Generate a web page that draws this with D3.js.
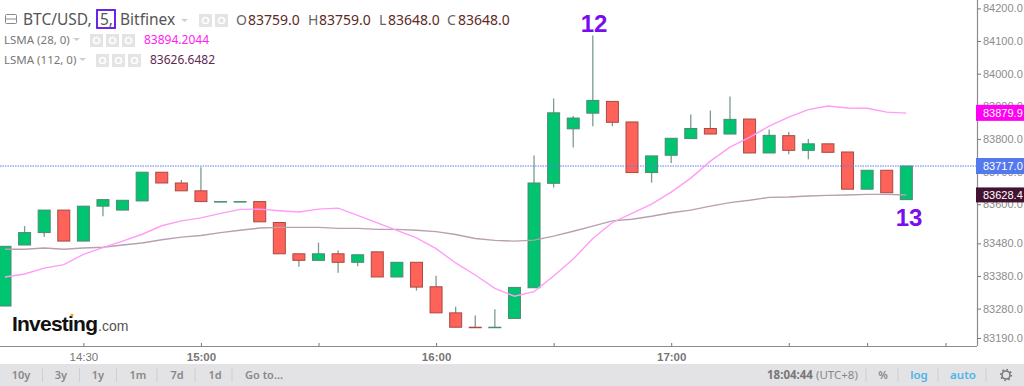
<!DOCTYPE html>
<html lang="en">
<head>
<meta charset="UTF-8">
<title>BTC/USD 5 Bitfinex</title>
<script src="https://d3js.org/d3.v7.min.js"></script>
<style>
    html, body { margin: 0; padding: 0; background: #fff; overflow: hidden; }
    svg { display: block; }
    text { font-family: "Liberation Sans", Arial, sans-serif; }
    .ui { font-family: "Noto Sans", "DejaVu Sans", sans-serif; }
</style>
</head>
<body>
<svg id="chart" width="1024" height="386"></svg>
<script>

// one candle every 5 minutes, index 0 = 14:10
const opens  = [83288,83475,83513,83582,83487,83594,83582,83610,83698,83665,83641,83608,83608,83608,83544,83448,83428,83448,83422,83454,83377,83422,83347,83267,83223,83223,83250,83344,83664,83831,83879,83915,83852,83697,83750,83801,83832,83815,83861,83757,83810,83765,83785,83760,83646,83704,83614];
const highs  = [83471,83533,83582,83582,83594,83614,83612,83698,83698,83674,83713,83608,83608,83608,83544,83448,83482,83459,83445,83454,83422,83422,83381,83286,83259,83278,83345,83749,83924,83870,84117,83915,83852,83748,83802,83875,83887,83930,83861,83829,83821,83800,83785,83760,83704,83704,83717];
const lows   = [83288,83475,83500,83487,83487,83563,83582,83610,83665,83641,83608,83608,83608,83546,83448,83408,83428,83390,83410,83377,83377,83335,83267,83223,83222,83223,83250,83344,83651,83774,83839,83839,83697,83666,83726,83801,83815,83815,83757,83757,83753,83738,83759,83646,83646,83635,83614];
const closes = [83471,83513,83582,83487,83594,83614,83612,83698,83665,83641,83608,83608,83608,83546,83448,83428,83448,83422,83445,83377,83422,83346,83267,83223,83222,83223,83345,83665,83880,83864,83918,83851,83697,83748,83802,83832,83815,83860,83757,83811,83765,83785,83759,83646,83704,83635,83717];

const lsma28 = [83377,83386,83404,83415,83446,83467,83487,83508,83534,83549,83558,83572,83584,83585,83580,83576,83585,83588,83566,83543,83520,83497,83464,83420,83383,83342,83318,83332,83380,83432,83495,83544,83572,83600,83637,83680,83732,83775,83805,83839,83867,83890,83901,83895,83894,83882,83879];
const lsma112 = [83462,83462,83466,83462,83466,83468,83475,83481,83491,83499,83504,83513,83520,83527,83529,83529,83529,83526,83526,83523,83523,83520,83516,83507,83495,83489,83487,83490,83502,83517,83533,83549,83554,83563,83574,83582,83594,83605,83612,83621,83622,83625,83627,83628,83630,83630,83628];

const priceTicks = [84200,84100,84000,83900,83800,83700,83600,83480,83380,83280,83190];
const timeTicks = [4,10,16,22,28,34,40,44,48];
const timeLabels = ['14:30','15:00','','16:00','','17:00','','',''];
const rangeButtons = ['10y','3y','1y','1m','7d','1d','Go to...'];

const lastClose = 83717;
const lastLsma28 = 83879.9;
const lastLsma112 = 83628.4;

const svg = d3.select('#chart');

const xScale = d3.scaleLinear().domain([0, 48]).range([5, 945.5]);
const yScale = d3.scaleLinear().domain([83190, 84200]).range([338, 8.4]);

// axes
const xAxis = d3.axisBottom(xScale).tickValues(timeTicks).tickSize(3)
    .tickFormat((d, i) => timeLabels[i]);
const gx = svg.append('g').attr('transform', 'translate(0,346)').call(xAxis);
gx.select('.domain').attr('d', 'M0,0.5H977').attr('stroke', '#8c8c8c').attr('stroke-width', 1.2);
gx.selectAll('line').attr('stroke', '#777').attr('y2', -3);
gx.selectAll('text').attr('y', 7).attr('font-size', 11.5).attr('font-weight', d => d === 4 ? 400 : 700)
    .attr('fill', '#777').style('font-family', '"Liberation Sans", Arial, sans-serif');

const yAxis = d3.axisRight(yScale).tickValues(priceTicks).tickSize(4).tickPadding(2)
    .tickFormat(d3.format('.1f'));
const gy = svg.append('g').attr('transform', 'translate(977,0)').call(yAxis);
gy.select('.domain').attr('d', 'M0.5,0V346').attr('stroke', '#8c8c8c').attr('stroke-width', 1.2);
gy.selectAll('line').attr('stroke', '#777');
gy.selectAll('text').attr('font-size', 11).attr('fill', '#8c8c8c')
    .style('font-family', '"Liberation Sans", Arial, sans-serif');

// candles
const candles = d3.range(opens.length);
svg.append('g').selectAll('line').data(candles).enter().append('line')
    .attr('x1', i => xScale(i)).attr('x2', i => xScale(i))
    .attr('y1', i => yScale(highs[i])).attr('y2', i => yScale(lows[i]))
    .attr('stroke', '#7b9c8d').attr('stroke-width', 1.3);
svg.append('g').selectAll('rect').data(candles).enter().append('rect')
    .attr('x', i => xScale(i) - 6)
    .attr('width', 12)
    .attr('y', i => yScale(Math.max(opens[i], closes[i])))
    .attr('height', i => Math.max(0.5, Math.abs(yScale(opens[i]) - yScale(closes[i]))))
    .attr('fill', i => closes[i] >= opens[i] ? '#00c46f' : '#ff6259')
    .attr('stroke', i => closes[i] >= opens[i] ? '#4c8a70' : '#a84a45')
    .attr('stroke-width', 1);

// last price line
svg.append('line').attr('x1', 0).attr('x2', 977)
    .attr('y1', yScale(lastClose)).attr('y2', yScale(lastClose))
    .attr('stroke', '#5b7ff0').attr('stroke-width', 1).attr('stroke-dasharray', '1.5 1');

// moving averages
const line = d3.line().x((d, i) => xScale(i)).y(d => yScale(d));
svg.append('path').attr('d', line(lsma112)).attr('fill', 'none')
    .attr('stroke', '#b99fb0').attr('stroke-width', 1.4);
svg.append('path').attr('d', line(lsma28)).attr('fill', 'none')
    .attr('stroke', '#ff9cf7').attr('stroke-width', 1.4);

// price tags on the axis
const tags = [
    {v: lastLsma28, fill: '#ff00f2', h: 16},
    {v: lastLsma112, fill: '#431230', h: 15},
    {v: lastClose, fill: '#5379ec', h: 16}
];
const tag = svg.append('g').selectAll('g').data(tags).enter().append('g')
    .attr('transform', d => `translate(976,${yScale(d.v)})`);
tag.append('rect').attr('x', 0).attr('y', d => -d.h / 2).attr('width', 48).attr('height', d => d.h)
    .attr('fill', d => d.fill);
tag.append('text').attr('x', 7).attr('dy', '0.36em').attr('font-size', 11).attr('fill', '#fff')
    .text(d => d.v.toFixed(1));

// annotations
svg.append('text').attr('x', 594).attr('y', 32).attr('text-anchor', 'middle').attr('font-size', 24)
    .attr('font-weight', 700).attr('fill', '#7a0cf0').text('12');
svg.append('text').attr('x', 909).attr('y', 226).attr('text-anchor', 'middle').attr('font-size', 24)
    .attr('font-weight', 700).attr('fill', '#7a0cf0').text('13');

// legend
const label = (x, y, txt, size, fill, cls) => svg.append('text').attr('x', x).attr('y', y)
    .attr('font-size', size).attr('fill', fill).attr('class', cls || 'ui').text(txt);
const icons = (xs, y) => xs.forEach((x, i) => {
    svg.append('rect').attr('x', x).attr('y', y).attr('width', 13).attr('height', 13).attr('fill', '#e4e4e4');
    svg.append('circle').attr('cx', x + 6.5).attr('cy', y + 6.5).attr('r', 3)
        .attr('fill', 'none').attr('stroke', '#fff').attr('stroke-width', 1.6);
});
const caret = (x, y) => svg.append('path').attr('d', `M${x},${y}h7l-3.5,3z`).attr('fill', '#ccc');

svg.append('rect').attr('x', 5.5).attr('y', 14.5).attr('width', 11).attr('height', 9).attr('rx', 1)
    .attr('fill', 'none').attr('stroke', '#888');
svg.append('line').attr('x1', 5.5).attr('x2', 16.5).attr('y1', 19).attr('y2', 19).attr('stroke', '#888');
label(23, 25, 'BTC/USD,', 15.5, '#555');
label(100, 25, '5,', 15.5, '#555');
svg.append('rect').attr('x', 97).attr('y', 10).attr('width', 18).attr('height', 18)
    .attr('fill', 'none').attr('stroke', '#5a10e8').attr('stroke-width', 1.8);
label(120, 25, 'Bitfinex', 15.5, '#555');
caret(181, 19);
icons([199, 215], 14);

const ohlc = [['O', 236, '83759.0', 248], ['H', 308, '83759.0', 319], ['L', 379, '83648.0', 388], ['C', 447, '83648.0', 458]];
ohlc.forEach(d => {
    label(d[1], 25, d[0], 14, '#666');
    label(d[3], 25, d[2], 14, '#5e2a24');
});

label(4, 44, 'LSMA (28, 0)', 11.5, '#777');
caret(73, 38);
icons([90, 106, 122], 34);
label(144, 44, 83894.2044.toFixed(4), 12, '#ff22f0');

label(4, 64, 'LSMA (112, 0)', 11.5, '#777');
caret(79, 58);
icons([96, 112, 128], 54);
label(150, 64, 83626.6482.toFixed(4), 12, '#5e2a50');

// logo
svg.append('text').attr('x', 12).attr('y', 331).attr('font-size', 21).attr('font-weight', 700)
    .attr('fill', '#111').attr('textLength', 86).text('Investing');
svg.append('text').attr('x', 98).attr('y', 331).attr('font-size', 14).attr('fill', '#555').text('.com');
svg.append('circle').attr('cx', 72).attr('cy', 315).attr('r', 1.6).attr('fill', '#f5a623');

// bottom toolbar
svg.append('rect').attr('x', 0).attr('y', 364).attr('width', 1024).attr('height', 22).attr('fill', '#e3e3e5');
const buttonX = [21, 61, 98, 138, 177, 215, 264];
svg.append('g').selectAll('text').data(rangeButtons).enter().append('text')
    .attr('class', 'ui').attr('x', (d, i) => buttonX[i]).attr('y', 379).attr('text-anchor', 'middle')
    .attr('font-size', 11).attr('font-weight', 600).attr('fill', '#888').text(d => d);
[42.5, 79.5, 116.5, 157, 195, 232, 866, 898, 938, 986].forEach(x => {
    svg.append('line').attr('x1', x).attr('x2', x).attr('y1', 368).attr('y2', 382).attr('stroke', '#cfcfd2');
});
label(767, 379, '18:04:44', 11.5, '#777').attr('font-weight', 700);
label(816, 379, '(UTC+8)', 11.5, '#888');
label(883, 379, '%', 11, '#888').attr('text-anchor', 'middle').attr('font-weight', 600);
label(919, 379, 'log', 11.5, '#4db4e6').attr('text-anchor', 'middle').attr('font-weight', 600);
label(963, 379, 'auto', 11.5, '#4db4e6').attr('text-anchor', 'middle').attr('font-weight', 600);
svg.append('circle').attr('cx', 1006).attr('cy', 375).attr('r', 4).attr('fill', 'none')
    .attr('stroke', '#777').attr('stroke-width', 1.6);
svg.append('circle').attr('cx', 1006).attr('cy', 375).attr('r', 5.4).attr('fill', 'none')
    .attr('stroke', '#777').attr('stroke-width', 1.5).attr('stroke-dasharray', '1.6 2.6');

</script>
</body>
</html>
